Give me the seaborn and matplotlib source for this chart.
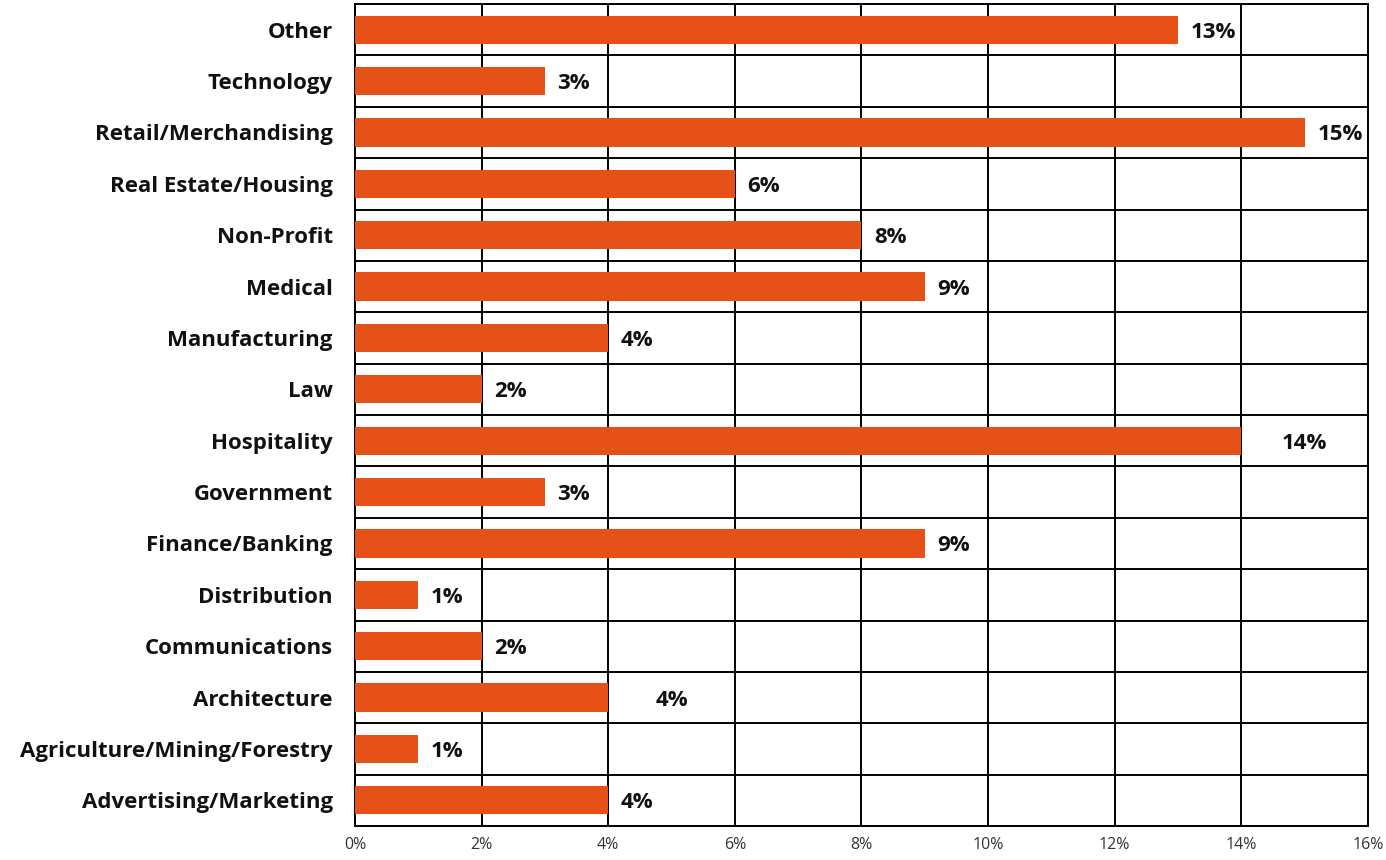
import numpy as np
import pandas as pd
import matplotlib
matplotlib.use("Agg")
import matplotlib.pyplot as plt
from matplotlib.ticker import MultipleLocator, FuncFormatter
import seaborn as sns

industries = [
    "Other", "Technology", "Retail/Merchandising", "Real Estate/Housing",
    "Non-Profit", "Medical", "Manufacturing", "Law", "Hospitality",
    "Government", "Finance/Banking", "Distribution", "Communications",
    "Architecture", "Agriculture/Mining/Forestry", "Advertising/Marketing",
]
shares = [13, 3, 15, 6, 8, 9, 4, 2, 14, 3, 9, 1, 2, 4, 1, 4]
# labels drawn centred in the next grid cell instead of beside the bar
centered_labels = {"Hospitality", "Architecture"}

df = pd.DataFrame({"industry": industries, "share": shares})

sns.set_theme(style="white")
plt.rcParams["font.family"] = ["Open Sans", "DejaVu Sans"]

fig = plt.figure(figsize=(13.86, 8.6), dpi=100)
ax = fig.add_axes([0.2561, 0.0395, 0.987 - 0.2561, 0.9953 - 0.0395])

bar_color = "#E65117"
sns.barplot(data=df, x="share", y="industry", orient="h", color=bar_color,
            width=0.55, saturation=1, linewidth=0, ax=ax, zorder=3)

n = len(industries)
ax.set_xlim(0, 16)
ax.set_ylim(n - 0.5, -0.5)
ax.xaxis.set_major_locator(MultipleLocator(2))
ax.xaxis.set_major_formatter(FuncFormatter(lambda v, _: f"{v:.0f}%"))
ax.set_yticks(np.arange(-0.5, n), minor=True)

ax.grid(True, axis="x", which="major", color="black", linewidth=1.4, zorder=1)
ax.grid(True, axis="y", which="minor", color="black", linewidth=1.4, zorder=1)
ax.grid(False, axis="y", which="major")
ax.set_axisbelow(True)
for sp in ax.spines.values():
    sp.set_visible(True)
    sp.set_color("black")
    sp.set_linewidth(1.4)

ax.set_xlabel("")
ax.set_ylabel("")
ax.tick_params(axis="both", which="both", length=0)
ax.tick_params(axis="x", pad=8, labelsize=11.5, labelcolor="#333333")
ax.tick_params(axis="y", pad=16, labelsize=16)
for lbl in ax.get_yticklabels():
    lbl.set_fontweight("bold")
    lbl.set_color("#111111")

for i, (name, val) in enumerate(zip(industries, shares)):
    if name in centered_labels:
        ax.text(val + 1, i, f"{val}%", ha="center", va="center_baseline",
                fontsize=16, fontweight="bold", color="#111111", zorder=4)
    else:
        ax.text(val + 0.2, i, f"{val}%", ha="left", va="center_baseline",
                fontsize=16, fontweight="bold", color="#111111", zorder=4)

fig.savefig("out.png", dpi=100)
